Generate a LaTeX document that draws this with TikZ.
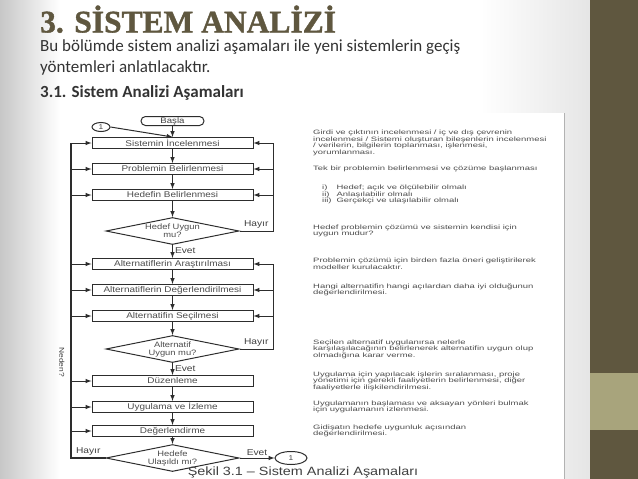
\documentclass[tikz,border=0pt]{standalone}
\usepackage{fontspec}
\setmainfont{Carlito}
\newfontfamily\titlefont[FakeBold=1.2]{Liberation Serif Bold}
\newfontfamily\figfont[FakeStretch=1.2]{Liberation Sans}
\newfontfamily\descfont[FakeStretch=1.5]{Liberation Sans}
\usepackage{xcolor}
\usetikzlibrary{shapes.geometric, arrows, positioning}

\definecolor{olive}{RGB}{95,87,63}
\definecolor{oliveband}{RGB}{168,164,124}
\definecolor{inkgray}{RGB}{45,45,45}

\tikzset{
  stage/.style={draw=inkgray, line width=1pt, minimum width=161pt, minimum height=11pt, inner sep=0pt, font=\figfont\fontsize{8.3}{8}\selectfont, text=black!70},
  decision/.style={diamond, draw=inkgray, line width=1pt, minimum width=133pt, minimum height=27pt, aspect=5, inner sep=0pt, align=center, font=\figfont\fontsize{7.8}{8}\selectfont, text=black!70},
  terminal/.style={draw=inkgray, line width=1pt, rounded corners=4.5pt, minimum width=63pt, minimum height=9pt, inner sep=0pt, font=\figfont\fontsize{8}{8}\selectfont, text=black!75},
  conn/.style={ellipse, draw=inkgray, line width=1pt, inner sep=0pt, font=\figfont\fontsize{7}{7}\selectfont, text=black!75},
  desc/.style={anchor=west, align=left, inner sep=0pt, font=\descfont\fontsize{6.3}{6.6}\selectfont, text=black!70},
  tag/.style={inner sep=2pt, font=\figfont\fontsize{8.5}{9}\selectfont, text=black!75},
  flowline/.style={draw=inkgray, line width=1pt, -latex},
  loopline/.style={draw=inkgray, line width=1pt},
}

\begin{document}
\begin{tikzpicture}[x=1pt, y=-1pt, node distance=14pt]
\useasboundingbox (0,0) rectangle (638,479);
% slide background
\fill[white] (0,0) rectangle (590,479);
\shade[left color=black!22, right color=white] (0,0) rectangle (60,479);
\shade[left color=white, right color=black!10] (480,0) rectangle (590,479);
\fill[white] (60,113) rectangle (564,479);
\draw[black!30] (564,113) -- (564,479);
\fill[olive] (590,0) rectangle (638,479);
\fill[oliveband] (590,373) rectangle (638,430);

% heading
\node[anchor=base west, inner sep=0pt, font=\titlefont\fontsize{31.5}{32}\selectfont, text=olive] (title) at (40,32.5) {3. SİSTEM ANALİZİ};
\node[anchor=base west, inner sep=0pt, font=\fontsize{17}{20}\selectfont, text=black!80] (intro1) at (40,51) {Bu bölümde sistem analizi aşamaları ile yeni sistemlerin geçiş};
\node[anchor=base west, inner sep=0pt, font=\fontsize{17}{20}\selectfont, text=black!80] (intro2) at (40,72) {yöntemleri anlatılacaktır.};
\node[anchor=base west, inner sep=0pt, font=\bfseries\fontsize{17}{20}\selectfont, text=black!80] (sec) at (40,97) {3.1. Sistem Analizi Aşamaları};

% flow chart
\node[stage] (sys) at (172.5,143) {Sistemin İncelenmesi};
\node[terminal, above=11pt of sys] (start) {Başla};
\node[conn, minimum width=18pt, minimum height=9pt] (c1top) at (101,127) {1};
\node[stage, below=of sys] (prob) {Problemin Belirlenmesi};
\node[stage, below=of prob] (hedef) {Hedefin Belirlenmesi};
\node[decision, below=16pt of hedef] (goal) {Hedef Uygun\\mu?};
\node[stage, below=13pt of goal] (research) {Alternatiflerin Araştırılması};
\node[stage, below=of research] (evaluate) {Alternatiflerin Değerlendirilmesi};
\node[stage, below=of evaluate] (choose) {Alternatifin Seçilmesi};
\node[decision, below=13pt of choose] (altok) {Alternatif\\Uygun mu?};
\node[stage, below=12pt of altok] (arrange) {Düzenleme};
\node[stage, below=of arrange] (implement) {Uygulama ve İzleme};
\node[stage, below=12pt of implement] (review) {Değerlendirme};
\node[decision, below=7pt of review] (reached) {Hedefe\\Ulaşıldı mı?};
\node[conn, minimum width=32pt, minimum height=13pt, right=35pt of reached] (c1bot) {1};

\coordinate (rx) at (273,0);
\coordinate (lx) at (71,0);

\draw[flowline] (start) -- (sys);
\draw[flowline] (c1top.east) -- (sys.north);
\foreach \a/\b in {sys/prob, prob/hedef, hedef/goal, research/evaluate, evaluate/choose, choose/altok, arrange/implement, implement/review, review/reached}
  \draw[flowline] (\a) -- (\b);
\draw[flowline] (goal) -- node[tag, right, pos=0.45] {Evet} (research);
\draw[flowline] (altok) -- node[tag, right, pos=0.45] {Evet} (arrange);
\draw[flowline] (reached.east) -- node[tag, above] {Evet} (c1bot);

% feedback loops
\draw[loopline] (goal.east) -- node[tag, above] {Hayır} (goal.east -| rx) -- (rx |- sys.east);
\foreach \b in {sys, prob, hedef}
  \draw[flowline] (rx |- \b.east) -- (\b.east);
\draw[loopline] (altok.east) -- node[tag, above] {Hayır} (altok.east -| rx) -- (rx |- research.east);
\foreach \b in {research, evaluate, choose}
  \draw[flowline] (rx |- \b.east) -- (\b.east);
\draw[loopline, line width=1.4pt] (reached.west) -- node[tag, above] {Hayır} (reached.west -| lx) -- (lx |- sys.west);
\foreach \b in {sys, prob, hedef, research, evaluate, choose, arrange, implement, review}
  \draw[flowline] (lx |- \b.west) -- (\b.west);
\node[tag, rotate=-90, font=\figfont\fontsize{7}{7}\selectfont] (why) at (62,362) {Neden?};

% notes beside the chart
\coordinate (dx) at (313,0);
\node[desc] (d1) at (dx |- sys) {Girdi ve çıktının incelenmesi / iç ve dış çevrenin\\incelenmesi / Sistemi oluşturan bileşenlerin incelenmesi\\/ verilerin, bilgilerin toplanması, işlenmesi,\\yorumlanması.};
\node[desc] (d2) at (dx |- prob) {Tek bir problemin belirlenmesi ve çözüme başlanması};
\node[desc, xshift=9pt] (d3) at (dx |- hedef) {\begin{tabular}{@{}l@{\hspace{5pt}}l@{}}i) & Hedef; açık ve ölçülebilir olmalı\\ii) & Anlaşılabilir olmalı\\iii) & Gerçekçi ve ulaşılabilir olmalı\end{tabular}};
\node[desc] (d4) at (dx |- goal) {Hedef problemin çözümü ve sistemin kendisi için\\uygun mudur?};
\node[desc] (d5) at (dx |- research) {Problemin çözümü için birden fazla öneri geliştirilerek\\modeller kurulacaktır.};
\node[desc] (d6) at (dx |- evaluate) {Hangi alternatifin hangi açılardan daha iyi olduğunun\\değerlendirilmesi.};
\node[desc] (d7) at (dx |- altok) {Seçilen alternatif uygulanırsa nelerle\\karşılaşılacağının belirlenerek alternatifin uygun olup\\olmadığına karar verme.};
\node[desc] (d8) at (dx |- arrange) {Uygulama için yapılacak işlerin sıralanması, proje\\yönetimi için gerekli faaliyetlerin belirlenmesi, diğer\\faaliyetlerle ilişkilendirilmesi.};
\node[desc] (d9) at (dx |- implement) {Uygulamanın başlaması ve aksayan yönleri bulmak\\için uygulamanın izlenmesi.};
\node[desc] (d10) at (dx |- review) {Gidişatın hedefe uygunluk açısından\\değerlendirilmesi.};

\node[anchor=base, inner sep=0pt, font=\figfont\fontsize{12}{12}\selectfont, text=black!75] (cap) at (303,475) {Şekil 3.1 – Sistem Analizi Aşamaları};
\end{tikzpicture}
\end{document}
